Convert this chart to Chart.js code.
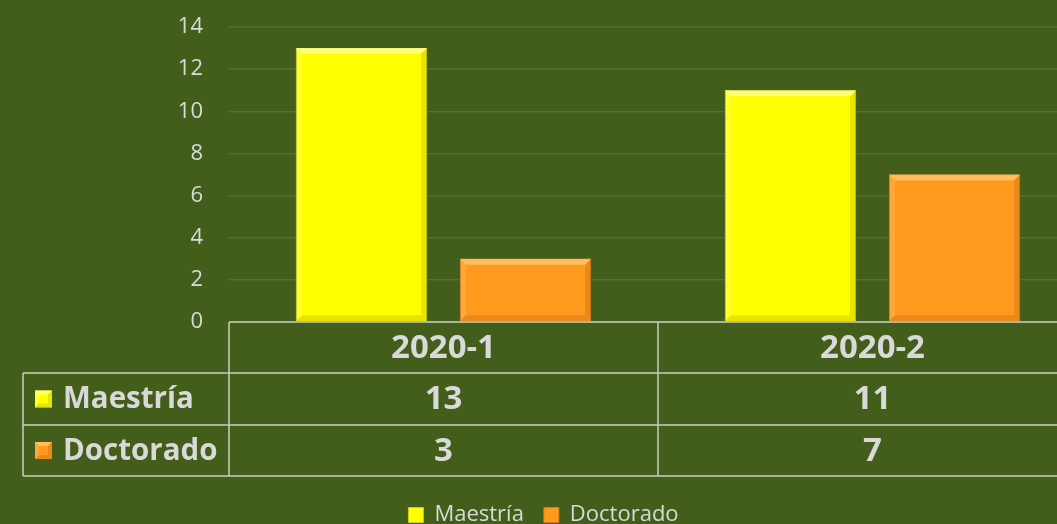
<!DOCTYPE html>
<html><head><meta charset="utf-8">
<script src="https://cdn.jsdelivr.net/npm/chart.js@4/dist/chart.umd.min.js"></script>
<style>
html,body{margin:0;padding:0;background:#435e1a;overflow:hidden;width:1057px;height:524px}
#wrap{position:relative;width:1090px;height:536px}
</style></head>
<body><div id="wrap"><canvas id="c"></canvas></div>
<script>
const categories = ['2020-1', '2020-2'];
const seriesNames = ['Maestría', 'Doctorado'];
const maestria = [13, 11];
const doctorado = [3, 7];
const yMax = 14;
const yStep = 2;

const BG = '#435e1a';
const TXT = '#d9d9d9';
const GRID = 'rgba(255,255,255,0.10)';
const LINE = '#c9cfc0';
const FILLS = ['#ffff00', '#ff9a1f'];
const LIGHT = ['#ffff8a', '#ffc266'];
const DARK = ['#d0d000', '#d97a16'];
const FONT = "'Open Sans', 'Noto Sans', sans-serif";
const PLOT_BOTTOM = 322;
const AXIS_LEFT = 229;
const TABLE_LEFT = 23;
const ROW_H = [51, 52, 51];

function bevelRect(ctx, l, t, r, b, s, i) {
  ctx.save();
  ctx.fillStyle = LIGHT[i];
  ctx.globalAlpha = 0.9;
  ctx.beginPath(); ctx.moveTo(l, t); ctx.lineTo(r, t); ctx.lineTo(r - s, t + s); ctx.lineTo(l + s, t + s); ctx.closePath(); ctx.fill();
  ctx.globalAlpha = 0.35;
  ctx.beginPath(); ctx.moveTo(l, t); ctx.lineTo(l + s, t + s); ctx.lineTo(l + s, b - s); ctx.lineTo(l, b); ctx.closePath(); ctx.fill();
  ctx.globalAlpha = 0.55;
  ctx.fillStyle = DARK[i];
  ctx.beginPath(); ctx.moveTo(r, t); ctx.lineTo(r, b); ctx.lineTo(r - s, b - s); ctx.lineTo(r - s, t + s); ctx.closePath(); ctx.fill();
  ctx.beginPath(); ctx.moveTo(l, b); ctx.lineTo(r, b); ctx.lineTo(r - s, b - s); ctx.lineTo(l + s, b - s); ctx.closePath(); ctx.fill();
  ctx.restore();
}

const effects = {
  id: 'effects',
  beforeDatasetsDraw(chart) {
    const ctx = chart.ctx;
    ctx.save();
    ctx.shadowColor = 'rgba(0,0,0,0.45)';
    ctx.shadowBlur = 8;
    ctx.shadowOffsetX = 0;
    ctx.shadowOffsetY = 1;
  },
  afterDatasetsDraw(chart) {
    const ctx = chart.ctx;
    ctx.restore();
    chart.data.datasets.forEach((ds, i) => {
      chart.getDatasetMeta(i).data.forEach(el => {
        const l = el.x - el.width / 2, r = el.x + el.width / 2;
        bevelRect(ctx, l, el.y, r, el.base, 6, i);
      });
    });
  }
};

const dataTable = {
  id: 'dataTable',
  afterDraw(chart) {
    const ctx = chart.ctx, x = chart.scales.x, ca = chart.chartArea;
    const catW = ca.width / categories.length;
    const y0 = ca.bottom;
    const y1 = y0 + ROW_H[0], y2 = y1 + ROW_H[1], y3 = y2 + ROW_H[2];
    ctx.save();
    ctx.strokeStyle = LINE;
    ctx.lineWidth = 1.5;
    ctx.beginPath();
    ctx.moveTo(ca.left, y0); ctx.lineTo(ca.right, y0);
    ctx.moveTo(TABLE_LEFT, y1); ctx.lineTo(ca.right, y1);
    ctx.moveTo(TABLE_LEFT, y2); ctx.lineTo(ca.right, y2);
    ctx.moveTo(TABLE_LEFT, y3); ctx.lineTo(ca.right, y3);
    ctx.moveTo(TABLE_LEFT, y1); ctx.lineTo(TABLE_LEFT, y3);
    ctx.moveTo(ca.left, y0); ctx.lineTo(ca.left, y3);
    for (let i = 0; i < categories.length; i++) {
      const rx = x.getPixelForValue(i) + catW / 2;
      ctx.moveTo(rx, y0); ctx.lineTo(rx, y3);
    }
    ctx.stroke();

    ctx.fillStyle = TXT;
    ctx.font = "bold 33px " + FONT;
    ctx.textAlign = 'center';
    ctx.textBaseline = 'middle';
    const rowsMid = [(y0 + y1) / 2, (y1 + y2) / 2, (y2 + y3) / 2];
    const values = [maestria, doctorado];
    categories.forEach((c, i) => {
      const cx = x.getPixelForValue(i);
      ctx.fillText(c, cx, rowsMid[0] + 1);
      values.forEach((v, k) => ctx.fillText(String(v[i]), cx, rowsMid[k + 1] + 1));
    });
    ctx.textAlign = 'left';
    ctx.font = "bold 29.5px " + FONT;
    seriesNames.forEach((n, k) => {
      const my = rowsMid[k + 1];
      const s = 17, lx = 35;
      ctx.fillStyle = FILLS[k];
      ctx.fillRect(lx, my - s / 2, s, s);
      bevelRect(ctx, lx, my - s / 2, lx + s, my + s / 2, 4, k);
      ctx.fillStyle = TXT;
      ctx.fillText(n, 63, my + 1);
    });
    ctx.restore();
  }
};

const bgPlugin = {
  id: 'bg',
  beforeDraw(chart) {
    const ctx = chart.ctx;
    ctx.save(); ctx.fillStyle = BG; ctx.fillRect(0, 0, chart.width, chart.height); ctx.restore();
  }
};

new Chart(document.getElementById('c'), {
  type: 'bar',
  data: {
    labels: categories,
    datasets: [
      { label: seriesNames[0], data: maestria, backgroundColor: FILLS[0], borderColor: DARK[0], borderWidth: 1 },
      { label: seriesNames[1], data: doctorado, backgroundColor: FILLS[1], borderColor: DARK[1], borderWidth: 1 }
    ]
  },
  options: {
    responsive: true,
    maintainAspectRatio: false,
    animation: false,
    layout: { padding: { top: 27, left: 0, right: 3, bottom: 0 } },
    datasets: { bar: { categoryPercentage: 0.765, barPercentage: 0.8 } },
    plugins: {
      tooltip: { enabled: false },
      legend: {
        position: 'bottom',
        labels: {
          color: TXT,
          font: { family: FONT, size: 22 },
          boxWidth: 15, boxHeight: 15, padding: 20,
          generateLabels(chart) {
            return chart.data.datasets.map((ds, i) => ({
              text: ds.label, fillStyle: FILLS[i], strokeStyle: DARK[i], lineWidth: 1,
              fontColor: TXT, datasetIndex: i, hidden: false
            }));
          }
        }
      }
    },
    scales: {
      x: {
        grid: { display: false, drawTicks: false },
        border: { display: false },
        ticks: { display: false },
        afterFit(s) { s.height = s.chart.height - PLOT_BOTTOM - (s.chart.legend ? s.chart.legend.height : 0); }
      },
      y: {
        min: 0, max: yMax,
        ticks: { stepSize: yStep, color: TXT, font: { family: FONT, size: 22 }, padding: 26 },
        grid: { color: GRID, lineWidth: 1.5, drawTicks: false },
        border: { display: false },
        afterFit(s) { s.width = AXIS_LEFT; s.paddingTop = 12; s.paddingBottom = 12; }
      }
    }
  },
  plugins: [bgPlugin, effects, dataTable]
});
</script>
</body></html>
